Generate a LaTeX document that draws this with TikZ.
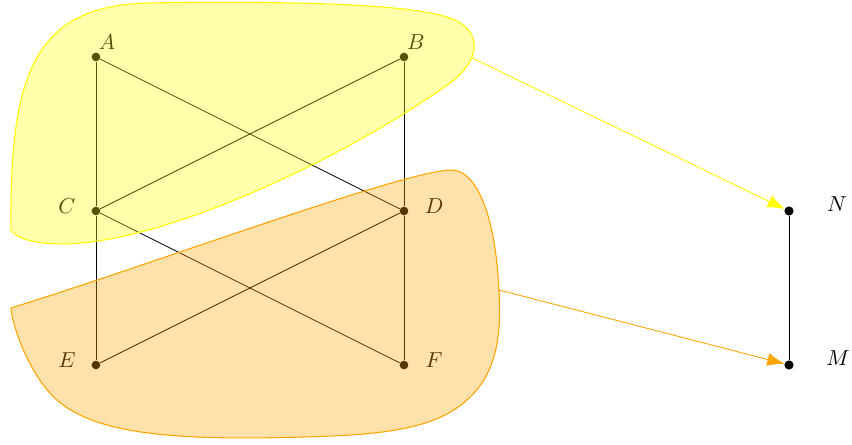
\documentclass[tikz,border=0pt]{standalone}
\usepackage{tikz}
\usetikzlibrary{arrows.meta}
\definecolor{borange}{HTML}{FFA500}
\definecolor{byellow}{HTML}{FFFF00}
\tikzset{
  vdot/.style={circle,fill=black,inner sep=0,minimum size=4pt},
  tdot/.style={circle,fill=black,draw=black,line width=0.6pt,inner sep=0,minimum size=3.6pt},
  lbl/.style={inner sep=0},
  blob/.style={fill opacity=0.33,line width=0.5pt},
  maparrow/.style={line width=0.4pt,-{Latex[length=8pt,width=6pt]}}
}

\begin{document}
\begin{tikzpicture}[x=2.5cm,y=2.5cm]
\useasboundingbox (-0.623,-0.519) rectangle (4.909,2.370);
% graph
\node[vdot] (A) at (0,2) {}; \node[vdot] (B) at (2,2) {};
\node[vdot] (C) at (0,1) {}; \node[vdot] (D) at (2,1) {};
\node[vdot] (E) at (0,0) {}; \node[vdot] (F) at (2,0) {};
\node[lbl] (lA) at (0.071,2.097) {$A$}; \node[lbl] (lB) at (2.078,2.097) {$B$};
\node[lbl] (lC) at (-0.188,1.032) {$C$}; \node[lbl] (lD) at (2.195,1.032) {$D$};
\node[lbl] (lE) at (-0.188,0.032) {$E$}; \node[lbl] (lF) at (2.195,0.032) {$F$};
\draw (A) -- (C) -- (E); \draw (B) -- (D) -- (F);
\draw (A) -- (D); \draw (B) -- (C); \draw (C) -- (F); \draw (D) -- (E);
% target
\node[tdot] (N) at (4.5,1) {}; \node[tdot] (M) at (4.5,0) {};
\node[lbl] (lN) at (4.812,1.045) {$N$}; \node[lbl] (lM) at (4.818,0.045) {$M$};
\draw (N) -- (M);
% blobs
\draw[blob,draw=byellow,fill=byellow] (-0.552,0.877) .. controls (-0.558,1.851) and (-0.429,2.338) .. (0.351,2.351)
  .. controls (1.325,2.364) and (2.104,2.344) .. (2.331,2.240)
  .. controls (2.526,2.143) and (2.494,1.948) .. (2.234,1.786)
  .. controls (1.584,1.331) and (0.416,0.779) .. (-0.234,0.786)
  .. controls (-0.396,0.786) and (-0.526,0.825) .. cycle;
\draw[blob,draw=borange,fill=borange] (-0.552,0.370) .. controls (0.351,0.649) and (1.974,1.253) .. (2.299,1.266)
  .. controls (2.461,1.273) and (2.591,1.006) .. (2.617,0.487)
  .. controls (2.636,0.162) and (2.591,-0.065) .. (2.409,-0.227)
  .. controls (2.195,-0.422) and (1.844,-0.455) .. (1.325,-0.468)
  .. controls (0.416,-0.494) and (-0.071,-0.435) .. (-0.299,-0.182)
  .. controls (-0.409,-0.065) and (-0.532,0.195) .. cycle;
% maps
\coordinate (ys) at (2.442,1.994); \coordinate (os) at (2.617,0.487);
\draw[maparrow,byellow] (ys) -- (N);
\draw[maparrow,borange] (os) -- (M);
\end{tikzpicture}
\end{document}
